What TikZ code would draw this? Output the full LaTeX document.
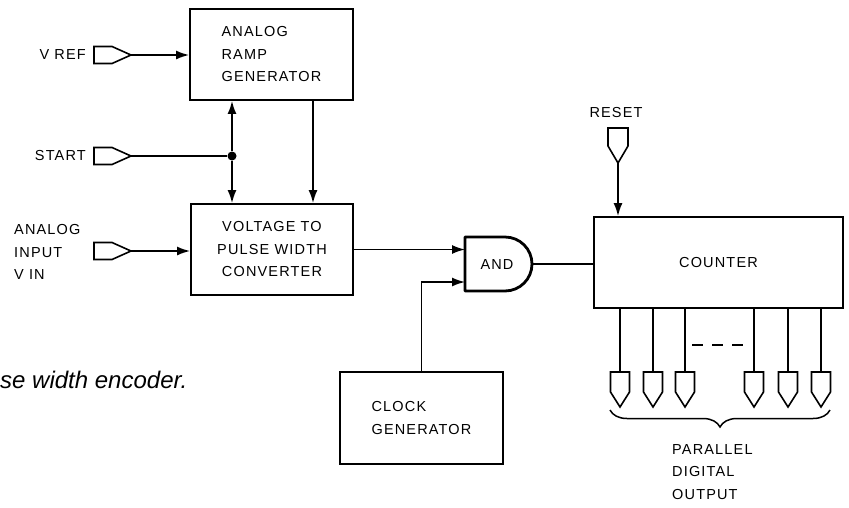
\documentclass[tikz,border=0pt]{standalone}
\usepackage{fontspec}
\setmainfont{Liberation Sans}
\newfontfamily\labfont[LetterSpace=8]{Liberation Sans}
\usetikzlibrary{arrows.meta,decorations.pathreplacing}
\tikzset{
  lab/.style={font=\labfont\fontsize{14.5}{22.5}\selectfont, inner sep=0pt},
  blk/.style={draw, line width=1.9pt, inner sep=0pt, lab},
  wire/.style={line width=1.6pt},
  arr/.style={wire, -{Latex[length=13pt,width=9pt]}},
  inport/.pic={\draw[line width=1.6pt, line join=miter] (0,0) -- (-19,-8.5) -- (-37,-8.5) -- (-37,8.5) -- (-19,8.5) -- cycle; \coordinate (-tip) at (0,0);},
  downport/.pic={\draw[line width=1.6pt] (0,0) -- (-10,-17) -- (-10,-35) -- (10,-35) -- (10,-17) -- cycle; \coordinate (-tip) at (0,0);},
  outport/.pic={\draw[line width=1.6pt] (-9.5,0) -- (9.5,0) -- (9.5,20) -- (0,35) -- (-9.5,20) -- cycle; \coordinate (-top) at (0,0);}
}
\begin{document}
\begin{tikzpicture}[x=1pt,y=-1pt]
\useasboundingbox (0,0) rectangle (849,507);
% blocks
\node[blk, minimum width=163pt, minimum height=91pt, align=left] (ramp) at (271.5,54.5) {ANALOG\\RAMP\\GENERATOR};
\node[blk, minimum width=162pt, minimum height=91pt, align=center] (pw) at (272,249.5) {VOLTAGE TO\\PULSE WIDTH\\CONVERTER};
\node[blk, minimum width=163pt, minimum height=92pt, align=left] (clock) at (421.5,418) {CLOCK\\GENERATOR};
\node[blk, minimum width=249pt, minimum height=91pt] (counter) at (718.5,262.5) {COUNTER};
% AND gate
\draw[line width=2.8pt, line join=round] (465,237) -- (505,237) arc[start angle=-90, end angle=90, radius=27] -- (465,291) -- cycle;
\node[lab] (andg) at (497,264.5) {AND};
\coordinate (andin1) at (465,249.5);
\coordinate (andin2) at (465,282);
\coordinate (andout) at (532,264);
% input ports
\pic (vref) at (131,55) {inport};
\pic (start) at (131,156) {inport};
\pic (vin) at (131,251) {inport};
\node[lab, anchor=east] (vreft) at (86,55) {V REF};
\node[lab, anchor=east] (startt) at (86,156) {START};
\node[lab, anchor=west, align=left] (vint) at (14,252) {ANALOG\\INPUT\\V IN};
\draw[arr] (vref-tip) -- (vref-tip -| ramp.west);
\draw[arr] (vin-tip) -- (vin-tip -| pw.west);
\node[circle, fill, inner sep=0pt, minimum size=9pt] (dot) at (232,156) {};
\draw[wire] (start-tip) -- (dot);
\draw[arr] (dot) -- (dot |- ramp.south);
\draw[arr] (dot) -- (dot |- pw.north);
\draw[arr] ([xshift=41.5pt]ramp.south) -- ([xshift=41pt]pw.north);
% to AND
\draw[arr] (pw.east |- andin1) -- (andin1);
\draw[arr] (clock.north) |- (andin2);
\draw[wire] (andout) -- (andout -| counter.west);
% reset
\node[lab] (resett) at (616,113) {RESET};
\pic (reset) at (618,163) {downport};
\draw[arr] (reset-tip) -- (reset-tip |- counter.north);
% outputs
\foreach \i/\x in {1/620,2/653,3/685,4/754,5/788,6/821}{
  \pic (o\i) at (\x,372) {outport};
  \draw[wire] (o\i-top |- counter.south) -- (o\i-top);
}
\draw[wire, dash pattern=on 11pt off 9pt] (692,345) -- (743,345);
\draw[line width=1.5pt, decorate, decoration={brace, amplitude=17pt, mirror}] (610,410) -- (830,410);
\node[lab, anchor=west, align=left] (outt) at (672,472) {PARALLEL\\DIGITAL\\OUTPUT};
% caption
\node[anchor=base west, inner sep=0pt, font=\itshape\fontsize{24}{28}\selectfont] (cap) at (0,388) {se width encoder.};
\end{tikzpicture}
\end{document}
